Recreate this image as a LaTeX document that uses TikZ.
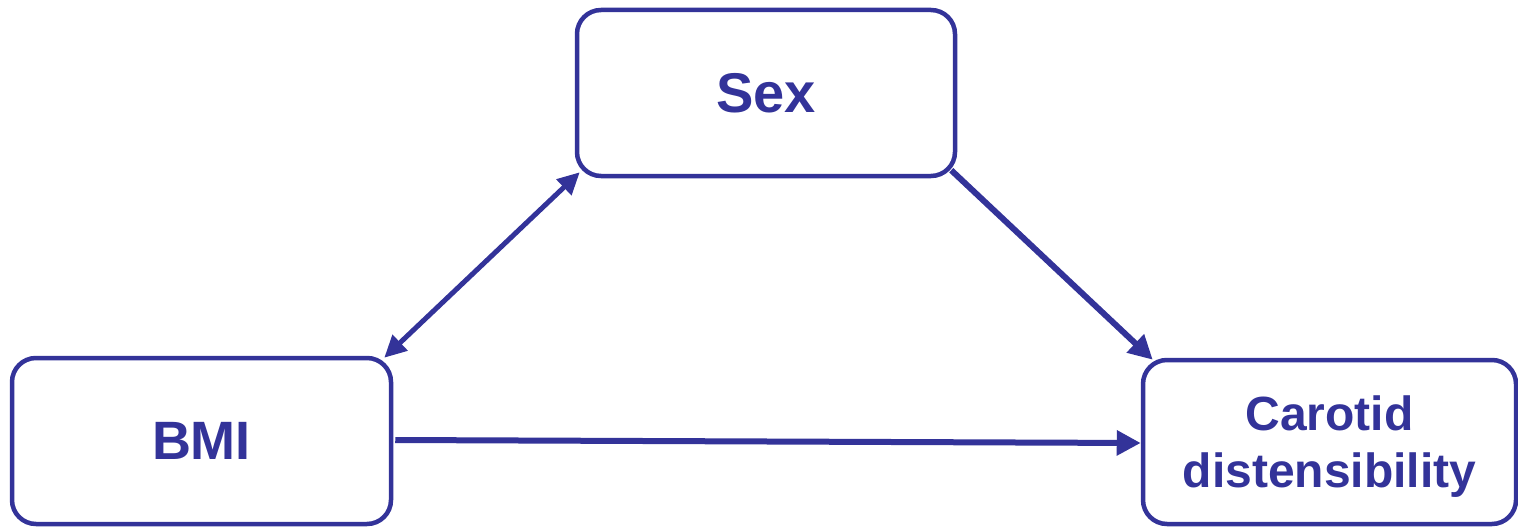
\documentclass[tikz,border=0pt]{standalone}
\usepackage{fontspec}
\setmainfont{Liberation Sans}
\usetikzlibrary{arrows.meta}
\definecolor{navy}{HTML}{333399}
\begin{document}
\begin{tikzpicture}[x=1pt,y=-1pt,
  box/.style={draw=navy,line width=4.5pt,rounded corners=24pt,inner sep=0pt,text=navy,font=\bfseries},
  conn/.style={draw=navy,line width=6pt,-{Triangle[length=24pt,width=24pt]}},
  dconn/.style={draw=navy,line width=5pt,{Triangle[length=22pt,width=21pt]}-{Triangle[length=22pt,width=21pt]}}]
\useasboundingbox (0,0) rectangle (1518,527);
\node[box,minimum width=378pt,minimum height=166pt,font=\fontsize{56}{60}\selectfont\bfseries] (sex) at (766,93) {Sex};
\node[box,minimum width=379pt,minimum height=166pt,font=\fontsize{54}{60}\selectfont\bfseries] (bmi) at (201.5,441) {BMI};
\node[box,minimum width=373pt,minimum height=164pt,font=\fontsize{48}{57}\selectfont\bfseries] (car) at (1329.5,442) {\raisebox{-6pt}[\height][\depth]{\begin{tabular}{@{}c@{}}Carotid\\distensibility\end{tabular}}};
\draw[conn] ([xshift=2pt,yshift=1pt]bmi.east) -- ([yshift=-1pt]car.west);
\draw[conn] ([xshift=-6pt,yshift=8pt]sex.south east) -- ([xshift=12pt,yshift=-2pt]car.north west);
\draw[dconn] ([xshift=5pt,yshift=6pt]sex.south west) -- ([xshift=-9pt,yshift=-2pt]bmi.north east);
\end{tikzpicture}
\end{document}
